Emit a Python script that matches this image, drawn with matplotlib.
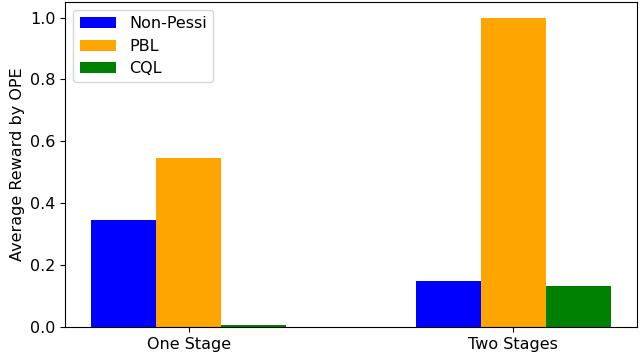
import numpy as np
import matplotlib.pyplot as plt

stages = ["One Stage", "Two Stages"]
non_pessi = [0.346, 0.148]
pbl = [0.547, 1.0]
cql = [0.006, 0.133]

plt.rcParams['font.size'] = 11.5

fig, ax = plt.subplots(figsize=(6.4, 3.54), dpi=100)
x = np.arange(len(stages))
w = 0.2
ax.bar(x - w, non_pessi, w, color="blue", label="Non-Pessi")
ax.bar(x, pbl, w, color="orange", label="PBL")
ax.bar(x + w, cql, w, color="green", label="CQL")

ax.set_xticks(x)
ax.set_xticklabels(stages)
ax.set_ylabel("Average Reward by OPE")
ax.legend(loc="upper left", handlelength=2.3, labelspacing=0.45)

plt.subplots_adjust(left=0.102, right=0.995, top=0.994, bottom=0.076)
plt.savefig("out.png")
